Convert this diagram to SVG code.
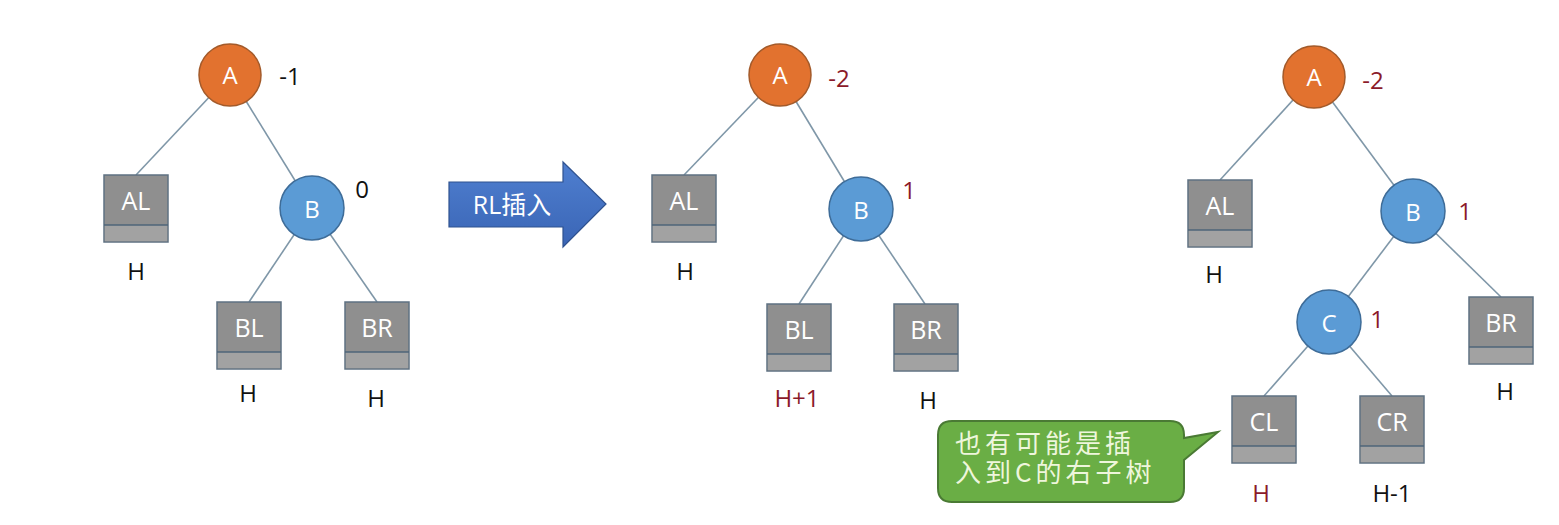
<svg xmlns="http://www.w3.org/2000/svg" width="1559" height="525" viewBox="0 0 1559 525">
<style>
.edge{stroke:#7f97a8;stroke-width:1.6;fill:none}
.na{fill:#e2722f;stroke:#a35a2a;stroke-width:1.5}
.nb{fill:#5b9bd5;stroke:#3e6c98;stroke-width:1.5}
.nt{font-family:"Open Sans","Noto Sans",sans-serif;font-size:24px;fill:#ffffff;text-anchor:middle;dominant-baseline:central}
.bx{fill:#8f8f8f;stroke:#5f7282;stroke-width:1.5}
.bb{fill:#a2a2a2;stroke:none}
.dv{stroke:#4e6478;stroke-width:1.5}
.bt{font-family:"Open Sans","Noto Sans",sans-serif;font-size:25px;fill:#ffffff;text-anchor:middle;dominant-baseline:central}
.lb{font-family:"Open Sans","Noto Sans",sans-serif;font-size:24px;fill:#111111;text-anchor:middle;dominant-baseline:central}
.red{fill:#8b1a2a}
</style>
<defs>
<linearGradient id="ag" x1="0" y1="0" x2="0" y2="1">
<stop offset="0" stop-color="#4f7fd0"/>
<stop offset="1" stop-color="#3a65b5"/>
</linearGradient>
<g id="box">
<rect class="bx" x="0" y="0" width="64" height="67"/>
<rect class="bb" x="0.8" y="50" width="62.4" height="16.2"/>
<line class="dv" x1="0" y1="50" x2="64" y2="50"/>
</g>
</defs>
<rect width="1559" height="525" fill="#ffffff"/>
<g id="connectors">
<line class="edge" x1="230" y1="75" x2="136" y2="175"/>
<line class="edge" x1="230" y1="75" x2="312" y2="208"/>
<line class="edge" x1="312" y1="208" x2="249" y2="302"/>
<line class="edge" x1="312" y1="208" x2="377" y2="302"/>
<line class="edge" x1="780" y1="75" x2="684" y2="175"/>
<line class="edge" x1="780" y1="75" x2="861" y2="209"/>
<line class="edge" x1="861" y1="209" x2="799" y2="304"/>
<line class="edge" x1="861" y1="209" x2="925" y2="304"/>
<line class="edge" x1="1314" y1="77" x2="1220" y2="180"/>
<line class="edge" x1="1314" y1="77" x2="1413" y2="211"/>
<line class="edge" x1="1413" y1="211" x2="1329" y2="322"/>
<line class="edge" x1="1413" y1="211" x2="1501" y2="297"/>
<line class="edge" x1="1329" y1="322" x2="1264" y2="396"/>
<line class="edge" x1="1329" y1="322" x2="1392" y2="396"/>
</g>
<!-- Tree 1 -->
<g id="t1-A"><circle class="na" cx="230" cy="75" r="31"/><text class="nt" x="230" y="74">A</text><text class="lb" x="290" y="75">-1</text></g>
<g id="t1-AL"><use href="#box" x="104" y="175"/><text class="bt" x="136" y="200">AL</text><text class="lb" x="136" y="270">H</text></g>
<g id="t1-B"><circle class="nb" cx="312" cy="208" r="32"/><text class="nt" x="312" y="208">B</text><text class="lb" x="362" y="188">0</text></g>
<g id="t1-BL"><use href="#box" x="217" y="302"/><text class="bt" x="249" y="327">BL</text><text class="lb" x="248" y="392">H</text></g>
<g id="t1-BR"><use href="#box" x="345" y="302"/><text class="bt" x="377" y="327">BR</text><text class="lb" x="376" y="397">H</text></g>
<!-- Arrow -->
<g id="arrow">
<path d="M449,182 L563,182 L563,162 L606,204 L563,247 L563,227 L449,227 Z" fill="url(#ag)" stroke="#2f528f" stroke-width="1.2"/>
<text x="512" y="204" font-family="'Open Sans','Noto Sans CJK SC',sans-serif" font-size="25" fill="#ffffff" text-anchor="middle" dominant-baseline="central">RL插入</text>
</g>
<!-- Tree 2 -->
<g id="t2-A"><circle class="na" cx="780" cy="75" r="31"/><text class="nt" x="780" y="74">A</text><text class="lb red" x="839" y="77">-2</text></g>
<g id="t2-AL"><use href="#box" x="652" y="175"/><text class="bt" x="684" y="200">AL</text><text class="lb" x="685" y="270">H</text></g>
<g id="t2-B"><circle class="nb" cx="861" cy="209" r="32"/><text class="nt" x="861" y="209">B</text><text class="lb red" x="909" y="189">1</text></g>
<g id="t2-BL"><use href="#box" x="767" y="304"/><text class="bt" x="799" y="329">BL</text><text class="lb red" x="797" y="397">H+1</text></g>
<g id="t2-BR"><use href="#box" x="894" y="304"/><text class="bt" x="926" y="329">BR</text><text class="lb" x="928" y="399">H</text></g>
<!-- Tree 3 -->
<g id="t3-A"><circle class="na" cx="1314" cy="77" r="31"/><text class="nt" x="1314" y="76">A</text><text class="lb red" x="1373" y="79">-2</text></g>
<g id="t3-AL"><use href="#box" x="1188" y="180"/><text class="bt" x="1220" y="205">AL</text><text class="lb" x="1214" y="273">H</text></g>
<g id="t3-B"><circle class="nb" cx="1413" cy="211" r="32"/><text class="nt" x="1413" y="211">B</text><text class="lb red" x="1465" y="210">1</text></g>
<g id="t3-C"><circle class="nb" cx="1329" cy="322" r="32"/><text class="nt" x="1329" y="322">C</text><text class="lb red" x="1377" y="318">1</text></g>
<g id="t3-BR"><use href="#box" x="1469" y="297"/><text class="bt" x="1501" y="322">BR</text><text class="lb" x="1505" y="390">H</text></g>
<g id="t3-CL"><use href="#box" x="1232" y="396"/><text class="bt" x="1264" y="421">CL</text><text class="lb red" x="1261" y="492">H</text></g>
<g id="t3-CR"><use href="#box" x="1360" y="396"/><text class="bt" x="1392" y="421">CR</text><text class="lb" x="1392" y="492">H-1</text></g>
<!-- Callout -->
<g id="callout">
<path d="M952,421 L1170,421 Q1184,421 1184,435 L1184,438 L1218,432 L1184,460 L1184,488 Q1184,502 1170,502 L952,502 Q938,502 938,488 L938,435 Q938,421 952,421 Z" fill="#6aae45" stroke="#4a7a34" stroke-width="2"/>
<text font-family="'Noto Sans CJK SC','Open Sans',sans-serif" font-size="26" fill="#eef6dc" letter-spacing="4">
<tspan x="955" y="453">也有可能是插</tspan>
<tspan x="955" y="482">入到C的右子树</tspan>
</text>
</g>
</svg>
